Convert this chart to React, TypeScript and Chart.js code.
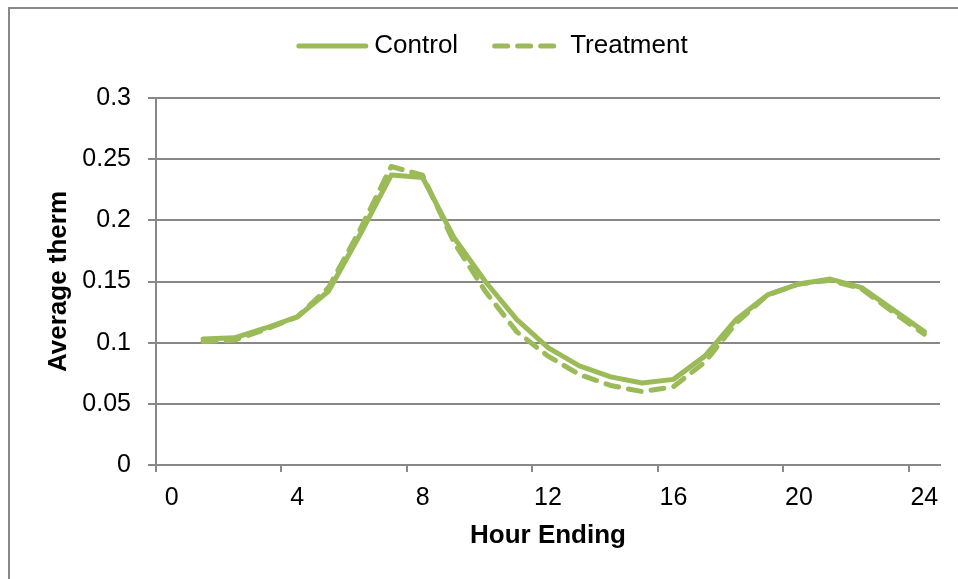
import { useEffect, useRef } from 'react';
import { Chart, registerables } from 'chart.js';

Chart.register(...registerables);

// Hour ending (1..24)
const hours = [1, 2, 3, 4, 5, 6, 7, 8, 9, 10, 11, 12, 13, 14, 15, 16, 17, 18, 19, 20, 21, 22, 23, 24];

// Average therm per hour
const control = [
  0.103, 0.104, 0.112, 0.121, 0.142, 0.188, 0.237, 0.235, 0.186, 0.150, 0.119, 0.096,
  0.081, 0.072, 0.067, 0.070, 0.089, 0.119, 0.139, 0.148, 0.152, 0.145, 0.127, 0.109,
];
const treatment = [
  0.101, 0.102, 0.111, 0.121, 0.145, 0.192, 0.244, 0.237, 0.182, 0.142, 0.109, 0.089,
  0.074, 0.065, 0.060, 0.064, 0.084, 0.116, 0.139, 0.148, 0.151, 0.144, 0.125, 0.107,
];

const hourTicks = [0, 4, 8, 12, 16, 20, 24];
const thermTicks = [0, 0.05, 0.1, 0.15, 0.2, 0.25, 0.3];

const GREEN = '#9BBB59';
const AXIS_GREY = '#888888';
const FONT = "'Liberation Sans', Arial, sans-serif";

const W = 958;
const H = 579;

// Legend drawn as line samples (solid / dashed) followed by the series name
const lineLegend = {
  id: 'lineLegend',
  afterDraw(chart: any, _args: any, opts: any) {
    const { ctx } = chart;
    ctx.save();
    ctx.font = `${opts.fontSize}px ${FONT}`;
    const sample = opts.sample;
    const textGap = opts.textGap;
    const itemGap = opts.itemGap;
    const items = chart.data.datasets.map((ds: any) => ({
      label: ds.label,
      color: ds.borderColor,
      dash: ds.borderDash || [],
      width: ctx.measureText(ds.label).width,
    }));
    const total =
      items.reduce((s: number, it: any) => s + sample + textGap + it.width, 0) +
      itemGap * (items.length - 1);
    let x = opts.centerX - total / 2;
    const y = opts.y;
    items.forEach((it: any) => {
      ctx.beginPath();
      ctx.setLineDash(it.dash);
      ctx.lineCap = 'round';
      ctx.lineWidth = 5;
      ctx.strokeStyle = it.color;
      ctx.moveTo(x + 2.5, y);
      ctx.lineTo(x + sample - 2.5, y);
      ctx.stroke();
      ctx.setLineDash([]);
      ctx.fillStyle = '#000';
      ctx.textBaseline = 'middle';
      ctx.textAlign = 'left';
      ctx.fillText(it.label, x + sample + textGap, y);
      x += sample + textGap + it.width + itemGap;
    });
    ctx.restore();
  },
};

export default function App() {
  const canvasRef = useRef<HTMLCanvasElement | null>(null);

  useEffect(() => {
    const canvas = canvasRef.current;
    if (!canvas) return;

    const chart = new Chart(canvas, {
      type: 'line',
      data: {
        datasets: [
          {
            label: 'Control',
            data: hours.map((h, i) => ({ x: h, y: control[i] })),
            borderColor: GREEN,
            backgroundColor: GREEN,
            borderWidth: 5,
            borderCapStyle: 'round',
            borderJoinStyle: 'round',
            pointRadius: 0,
            tension: 0,
            fill: false,
            order: 1,
          },
          {
            label: 'Treatment',
            data: hours.map((h, i) => ({ x: h, y: treatment[i] })),
            borderColor: GREEN,
            backgroundColor: GREEN,
            borderWidth: 5,
            borderDash: [13, 10],
            borderCapStyle: 'round',
            borderJoinStyle: 'round',
            pointRadius: 0,
            tension: 0,
            fill: false,
            order: 0,
          },
        ],
      },
      options: {
        responsive: false,
        animation: false,
        devicePixelRatio: 1,
        layout: { padding: { top: 98, right: 18, left: 0, bottom: 0 } },
        plugins: {
          legend: { display: false },
          tooltip: { enabled: false },
          lineLegend: {
            centerX: 492,
            y: 46,
            fontSize: 26,
            sample: 72,
            textGap: 6,
            itemGap: 34,
          },
        } as any,
        scales: {
          x: {
            type: 'linear',
            min: -0.5,
            max: 24.5,
            afterBuildTicks: (s: any) => {
              s.ticks = hourTicks.map((h) => ({ value: h - 0.5 }));
            },
            afterFit: (s: any) => {
              s.height = H - 465;
            },
            ticks: {
              autoSkip: false,
              maxRotation: 0,
              labelOffset: 15.7,
              padding: 11,
              color: '#000',
              font: { family: FONT, size: 25 },
              callback: (v: any) => String(Number(v) + 0.5),
            },
            grid: {
              drawOnChartArea: false,
              drawTicks: true,
              tickLength: 7,
              color: AXIS_GREY,
              lineWidth: 2,
            },
            border: { display: true, color: AXIS_GREY, width: 2 },
            title: {
              display: true,
              text: 'Hour Ending',
              color: '#000',
              font: { family: FONT, size: 26, weight: 'bold' },
              padding: { top: 0, bottom: 28 },
            },
          },
          y: {
            min: 0,
            max: 0.3,
            afterBuildTicks: (s: any) => {
              s.ticks = thermTicks.map((v) => ({ value: v }));
            },
            afterFit: (s: any) => {
              s.width = 156;
            },
            ticks: {
              padding: 17,
              color: '#000',
              font: { family: FONT, size: 25 },
              callback: (v: any) => String(v),
            },
            grid: {
              color: AXIS_GREY,
              lineWidth: 2,
              tickLength: 8,
              drawTicks: true,
            },
            border: { display: true, color: AXIS_GREY, width: 2 },
            title: {
              display: true,
              text: 'Average therm',
              color: '#000',
              font: { family: FONT, size: 26, weight: 'bold' },
              padding: { top: 43, bottom: 0 },
            },
          },
        },
      } as any,
      plugins: [lineLegend as any],
    });

    return () => chart.destroy();
  }, []);

  return (
    <div
      style={{
        position: 'absolute',
        left: 0,
        top: 0,
        width: W,
        height: H,
        overflow: 'hidden',
        background: '#fff',
      }}
    >
      <div
        style={{
          position: 'absolute',
          left: 8,
          top: 7,
          width: 1200,
          height: 1200,
          borderLeft: `2px solid ${AXIS_GREY}`,
          borderTop: `2px solid ${AXIS_GREY}`,
        }}
      />
      <canvas
        ref={canvasRef}
        width={W}
        height={H}
        style={{ position: 'absolute', left: 0, top: 0, width: W, height: H }}
      />
    </div>
  );
}
